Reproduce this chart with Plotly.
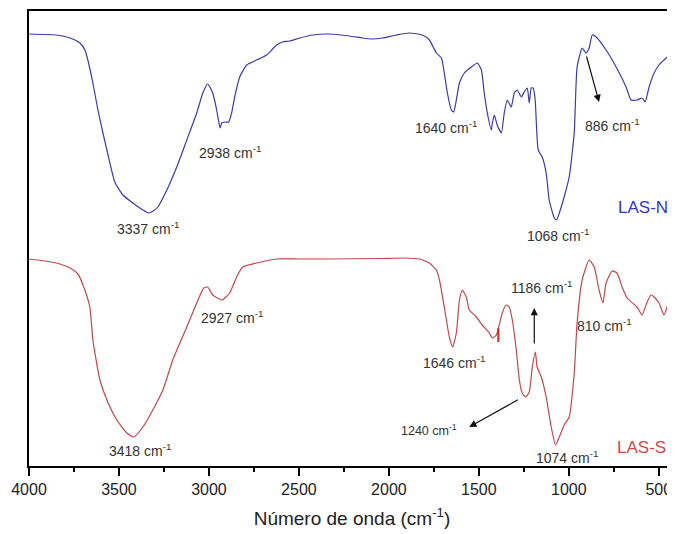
import plotly.graph_objects as go

# LAS-N (blue) spectrum: wavenumber (cm^-1) and transmittance (a.u.)
wn_n = [4000, 3845, 3772, 3717, 3689, 3673, 3645, 3617, 3589, 3567, 3523, 3478, 3423, 3367,
        3337, 3310, 3284, 3234, 3179, 3123, 3068, 3034, 3007, 2979, 2957, 2938, 2929, 2912,
        2890, 2874, 2857, 2829, 2790, 2735, 2679, 2624, 2591, 2552, 2496, 2424,
        2330, 2219, 2147, 2091, 2036, 1958, 1886, 1814, 1775, 1736, 1708, 1692, 1675, 1653,
        1640, 1625, 1608, 1581, 1542, 1508, 1486, 1470, 1453, 1431, 1425, 1414, 1398, 1375,
        1359, 1342, 1320, 1303, 1287, 1264, 1248, 1231, 1220, 1209, 1198, 1187, 1170, 1148,
        1126, 1109, 1081, 1068, 1053, 1026, 998, 970, 954, 926, 904, 887, 870, 848, 793,
        737, 682, 654, 621, 593, 576, 554, 526, 499, 471, 454, 432, 415]
t_n = [432, 431, 428, 423, 416, 406, 383, 356, 333, 316, 284, 271, 263, 256,
       253, 255, 259, 276, 299, 326, 353, 373, 382, 373, 356, 338, 343, 344,
       344, 353, 369, 389, 401, 406, 411, 421, 424, 425, 428, 431,
       432, 430, 428, 427, 428, 431, 433, 431, 426, 413, 408, 393, 373, 356,
       354, 366, 383, 393, 399, 403, 396, 373, 353, 336, 343, 351, 341, 333,
       353, 366, 359, 373, 376, 369, 374, 378, 363, 378, 378, 366, 316, 309,
       293, 266, 248, 246, 253, 269, 289, 333, 399, 418, 413, 418, 431, 429, 416,
       399, 379, 366, 366, 368, 364, 379, 393, 401, 406, 409, 419, 429]

# LAS-S (red) spectrum
wn_s = [4000, 3911, 3828, 3772, 3728, 3700, 3662, 3645, 3606, 3567, 3512, 3456, 3418, 3367,
        3312, 3256, 3201, 3123, 3068, 3029, 3007, 2979, 2927, 2885, 2846, 2813, 2735, 2624,
        2496, 2330, 2052, 1914, 1830, 1775, 1736, 1719, 1692, 1664, 1646, 1625, 1608, 1592,
        1570, 1553, 1514, 1481, 1442, 1425, 1403, 1370, 1348, 1331, 1314, 1292, 1275, 1259,
        1240, 1220, 1203, 1186, 1176, 1153, 1126, 1098, 1074, 1053, 1026, 998, 970, 954, 926,
        887, 859, 832, 810, 793, 759, 732, 704, 676, 621, 593, 565, 543, 526, 499, 471, 454,
        432, 415]
t_s = [207, 205, 202, 198, 192, 181, 159, 126, 86, 66, 46, 33, 29, 39,
       56, 76, 106, 139, 163, 178, 179, 171, 166, 173, 189, 199, 203, 207,
       207, 207, 207.5, 208, 207, 203, 196, 186, 159, 129, 119, 133, 166, 176,
       169, 156, 149, 141, 133, 128, 131, 153, 161, 159, 146, 116, 86, 73,
       69, 74, 99, 114, 99, 89, 69, 39, 21, 29, 41, 49, 93, 143, 186,
       206, 199, 176, 163, 183, 195, 193, 179, 168, 159, 151, 164, 171, 169, 163, 151, 159,
       179, 206]

# Peak labels: (text, wavenumber, transmittance)
labels = [
    ("3337 cm<sup>-1</sup>", 3340, 238),
    ("2938 cm<sup>-1</sup>", 2885, 314),
    ("1640 cm<sup>-1</sup>", 1680, 339),
    ("886 cm<sup>-1</sup>", 759, 341),
    ("1068 cm<sup>-1</sup>", 1059, 231),
    ("2927 cm<sup>-1</sup>", 2874, 149),
    ("3418 cm<sup>-1</sup>", 3384, 16),
    ("1646 cm<sup>-1</sup>", 1636, 104),
    ("1186 cm<sup>-1</sup>", 1153, 179),
    ("810 cm<sup>-1</sup>", 804, 141),
    ("1074 cm<sup>-1</sup>", 1009, 9),
]
label_1240 = ("1240 cm<sup>-1</sup>", 1775, 36)

# Arrows: (tail wn, tail T, head wn, head T)
arrows = [
    (904, 411, 832, 364),
    (1192, 121, 1192, 158),
    (1275, 67, 1553, 39),
]

blue = "#3b3ba6"
red = "#c0484c"
font_family = "Arial, Liberation Sans"

fig = go.Figure()
fig.add_trace(go.Scatter(x=wn_n, y=t_n, mode="lines", name="LAS-N",
                         line=dict(color=blue, width=1.2, shape="spline", smoothing=0.5)))
fig.add_trace(go.Scatter(x=wn_s, y=t_s, mode="lines", name="LAS-S",
                         line=dict(color=red, width=1.2, shape="spline", smoothing=0.5)))

ann = []
for txt, x, y in labels:
    ann.append(dict(x=x, y=y, xref="x", yref="y", text=txt, showarrow=False,
                    font=dict(family=font_family, size=14, color="#333333")))
ann.append(dict(x=label_1240[1], y=label_1240[2], xref="x", yref="y", text=label_1240[0],
                showarrow=False, font=dict(family=font_family, size=12.5, color="#333333")))
for x0, y0, x1, y1 in arrows:
    ann.append(dict(x=x1, y=y1, ax=x0, ay=y0, xref="x", yref="y", axref="x", ayref="y",
                    text="", showarrow=True, arrowhead=2, arrowsize=1.2, arrowwidth=1.2,
                    arrowcolor="#111111"))
ann.append(dict(x=587, y=259, xref="x", yref="y", text="LAS-N", showarrow=False,
                font=dict(family=font_family, size=17, color="#3434c8")))
ann.append(dict(x=598, y=19, xref="x", yref="y", text="LAS-S", showarrow=False,
                font=dict(family=font_family, size=17, color="#d04848")))

# The page body adds an 8px margin, so the figure is sized to fill the rest of the window.
fig.update_layout(
    width=667, height=526,
    margin=dict(l=21, r=0, t=3, b=68, autoexpand=False),
    paper_bgcolor="white", plot_bgcolor="white",
    showlegend=False,
    annotations=ann,
    shapes=[dict(type="line", xref="x", yref="y", x0=1392, x1=1392, y0=124, y1=138,
                 line=dict(color="#e02020", width=2))],
    xaxis=dict(
        range=[4000, 410], tickmode="linear", tick0=500, dtick=500,
        ticks="outside", ticklen=8, tickwidth=1.5, tickcolor="black",
        showline=True, linecolor="black", linewidth=2, mirror=True,
        showgrid=False, zeroline=False, automargin=False,
        tickfont=dict(family=font_family, size=16, color="#222222"),
        minor=dict(dtick=250, tick0=250, ticks="outside", ticklen=4, tickwidth=1.5, tickcolor="black"),
        title=dict(text="Número de onda (cm<sup>-1</sup>)", standoff=14,
                   font=dict(family=font_family, size=19, color="#222222")),
    ),
    yaxis=dict(
        range=[0, 455], showticklabels=False, ticks="", showgrid=False, zeroline=False,
        showline=True, linecolor="black", linewidth=2, automargin=False,
    ),
)

fig.write_html("out.html")
